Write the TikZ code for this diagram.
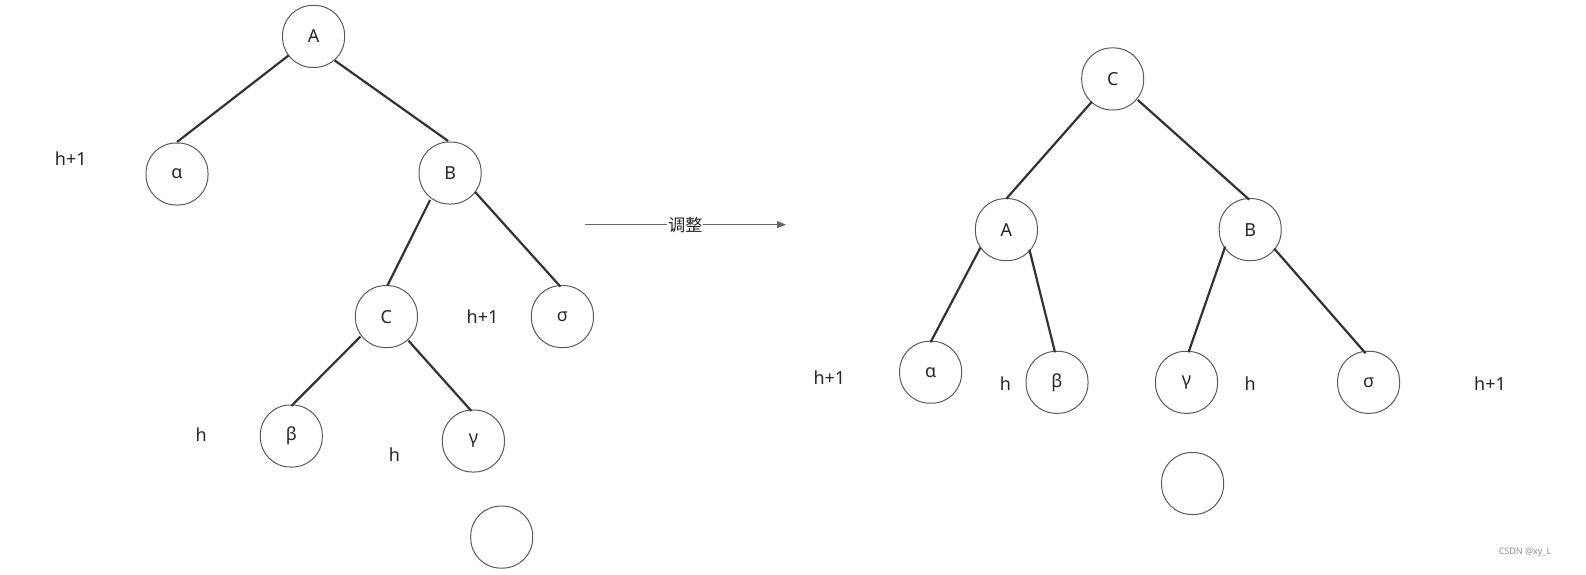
\documentclass[tikz,border=0pt]{standalone}
\usepackage{fontspec}
\setmainfont{Noto Sans}
\newfontfamily\cjk{Noto Sans CJK SC}
\usetikzlibrary{calc,arrows.meta}
\definecolor{edgec}{HTML}{333333}
\definecolor{nodec}{HTML}{5A5A5A}
\definecolor{arrc}{HTML}{666666}
\begin{document}
\begin{tikzpicture}[x=1pt,y=-1pt,
  tn/.style={draw=nodec,line width=1pt,rectangle,rounded corners=30pt,minimum width=62pt,minimum height=62pt,inner sep=0pt,font=\fontsize{18}{20}\selectfont,text=black!85},
  lab/.style={font=\fontsize{18}{20}\selectfont,text=black!85},
  ed/.style={draw=edgec,line width=2.2pt}]
\useasboundingbox (0,0) rectangle (1586,574);
% left tree
\node[tn] (lA) at (313.6,36.4) {A};
\node[tn] (lal) at (177,174) {α};
\node[tn] (lB) at (450.1,173) {B};
\node[tn] (lC) at (386.4,316.6) {C};
\node[tn] (lsi) at (562.4,316.6) {σ};
\node[tn] (lbe) at (291.3,436) {β};
\node[tn] (lga) at (473.4,441) {γ};
\node[tn] (lE) at (501.7,537.1) {};
\node[lab] (l1) at (70.8,158.8) {h+1};
\node[lab] (l2) at (482.5,316.6) {h+1};
\node[lab] (l3) at (201.3,435) {h};
\node[lab] (l4) at (394.5,454.2) {h};
\draw[ed] ($(lA)+(-25,19)$) -- ($(lal)+(0,-32)$);
\draw[ed] ($(lA)+(21,24)$) -- ($(lB)+(-2,-32)$);
\draw[ed] ($(lB)+(-20,27)$) -- ($(lC)+(1,-31)$);
\draw[ed] ($(lB)+(25,19)$) -- ($(lsi)+(-2,-30)$);
\draw[ed] ($(lC)+(-26,20)$) -- ($(lbe)+(0,-30)$);
\draw[ed] ($(lC)+(22,24)$) -- ($(lga)+(-2,-30)$);
% arrow
\coordinate (as) at (584.6,224.6);
\coordinate (ae) at (786,224.6);
\draw[draw=arrc,line width=1pt,-{Triangle[length=9pt,width=7pt]}] (as) -- (ae) node[midway,fill=white,inner sep=1pt,font=\cjk\fontsize{17}{19}\selectfont,text=black!85] (adj) {调整};
% right tree
\node[tn] (rC) at (1112.7,78.9) {C};
\node[tn] (rA) at (1006.4,229.6) {A};
\node[tn] (rB) at (1250.2,229.6) {B};
\node[tn] (ral) at (930.6,372.2) {α};
\node[tn] (rbe) at (1057,382.3) {β};
\node[tn] (rga) at (1186.5,382.3) {γ};
\node[tn] (rsi) at (1368.6,382.3) {σ};
\node[tn] (rE) at (1192.6,483.5) {};
\node[lab] (r1) at (829.4,377.3) {h+1};
\node[lab] (r2) at (1005.4,383.4) {h};
\node[lab] (r3) at (1250.2,383.4) {h};
\node[lab] (r4) at (1490,383.4) {h+1};
\draw[ed] ($(rC)+(-21,23)$) -- ($(rA)+(0,-31)$);
\draw[ed] ($(rC)+(25,21)$) -- ($(rB)+(-1,-30)$);
\draw[ed] ($(rA)+(-26,18)$) -- ($(ral)+(0,-30)$);
\draw[ed] ($(rA)+(23,20)$) -- ($(rbe)+(-2,-30)$);
\draw[ed] ($(rB)+(-25,17)$) -- ($(rga)+(2,-30)$);
\draw[ed] ($(rB)+(24,19)$) -- ($(rsi)+(-3,-29)$);
\node[font=\fontsize{9}{10}\selectfont,text=black!45] (wm) at (1525,552) {CSDN @xy\_L};
\end{tikzpicture}
\end{document}
